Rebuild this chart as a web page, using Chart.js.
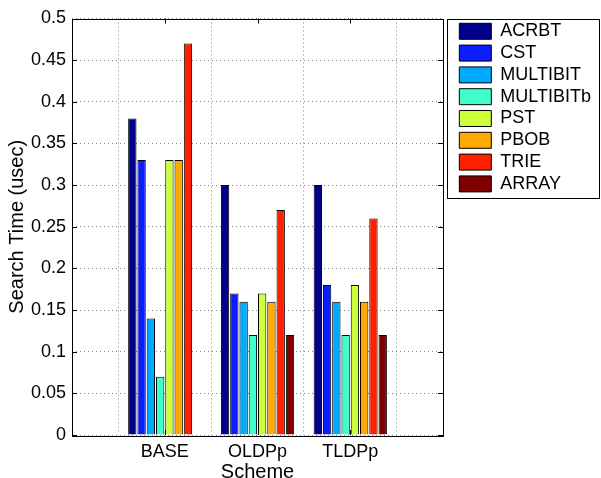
<!DOCTYPE html>
<html>
<head>
<meta charset="utf-8">
<script src="https://cdn.jsdelivr.net/npm/chart.js@4"></script>
<style>
    html, body { margin: 0; padding: 0; background: #fff; }
</style>
</head>
<body>
<canvas id="chart" width="601" height="478"></canvas>
<script>
// x categories
const schemes = ['BASE', 'OLDPp', 'TLDPp'];
// series names and colours (jet-like colormap)
const methods = ['ACRBT', 'CST', 'MULTIBIT', 'MULTIBITb', 'PST', 'PBOB', 'TRIE', 'ARRAY'];
const colors = ['#00008c', '#0a1eff', '#00aaff', '#40ffcc', '#ccff3c', '#ffaa00', '#ff2000', '#800000'];

// search time (usec), one value per scheme
const acrbt = [0.38, 0.30, 0.30];
const cst = [0.33, 0.17, 0.18];
const multibit = [0.14, 0.16, 0.16];
const multibitb = [0.07, 0.12, 0.12];
const pst = [0.33, 0.17, 0.18];
const pbob = [0.33, 0.16, 0.16];
const trie = [0.47, 0.27, 0.26];
const array = [0, 0.12, 0.12];
const series = [acrbt, cst, multibit, multibitb, pst, pbob, trie, array];

const yMin = 0, yMax = 0.5, yStep = 0.05;

Chart.defaults.font.family = "'Liberation Sans', Arial, sans-serif";
Chart.defaults.font.size = 18;
Chart.defaults.color = '#000';

// empty slots at both ends so the x range runs 0..4 like the original
const labels = [''].concat(schemes, ['']);

const datasets = methods.map(function (name, i) {
    return {
        label: name,
        data: [null].concat(series[i], [null]),
        backgroundColor: colors[i],
        borderColor: '#000',
        borderWidth: 1,
        yAxisID: 'y'
    };
});

// box round the plot, inward tick marks, frame round the legend
const framePlugin = {
    id: 'frame',
    afterDraw(chart) {
        const ctx = chart.ctx;
        const a = chart.chartArea;
        const x = chart.scales.x;
        const y = chart.scales.y;
        const tl = 5;
        ctx.save();
        ctx.strokeStyle = '#000';
        ctx.lineWidth = 1;
        ctx.beginPath();
        y.ticks.forEach(function (t) {
            let py = Math.round(y.getPixelForValue(t.value)) + 0.5;
            ctx.moveTo(a.left, py);
            ctx.lineTo(a.left + tl, py);
            ctx.moveTo(a.right, py);
            ctx.lineTo(a.right - tl, py);
        });
        for (let i = 1; i <= schemes.length; ++i) {
            let px = Math.round(x.getPixelForValue(i)) + 0.5;
            ctx.moveTo(px, a.bottom);
            ctx.lineTo(px, a.bottom - tl);
            ctx.moveTo(px, a.top);
            ctx.lineTo(px, a.top + tl);
        }
        ctx.stroke();
        ctx.strokeRect(Math.round(a.left) + 0.5, Math.round(a.top) + 0.5,
            Math.round(a.right - a.left), Math.round(a.bottom - a.top));

        const lg = chart.legend;
        const boxes = lg.legendHitBoxes;
        const last = boxes[boxes.length - 1];
        const pad = lg.options.labels.padding;
        const bottom = last.top + last.height + pad + 1;
        ctx.strokeRect(Math.floor(lg.left - 8) + 0.5, Math.round(lg.top) + 0.5,
            152, Math.round(bottom - lg.top));
        ctx.restore();
    }
};

new Chart(document.getElementById('chart'), {
    type: 'bar',
    data: { labels: labels, datasets: datasets },
    options: {
        responsive: false,
        animation: false,
        devicePixelRatio: 1,
        barPercentage: 0.9,
        categoryPercentage: 0.8,
        layout: { padding: { left: 7, top: 18.5, right: 0, bottom: 0 } },
        plugins: {
            tooltip: { enabled: false },
            legend: {
                position: 'right',
                align: 'start',
                maxWidth: 170,
                labels: {
                    boxWidth: 32,
                    boxHeight: 16,
                    padding: 3.8,
                    font: { size: 18 },
                    color: '#000'
                }
            }
        },
        scales: {
            x: {
                offset: false,
                grid: { color: '#808080', drawTicks: false, borderDash: [1, 3] },
                border: { display: false, dash: [1, 3] },
                ticks: { padding: 8, autoSkip: false, maxRotation: 0, font: { size: 18, lineHeight: 1 } },
                title: { display: true, text: 'Scheme', padding: { top: -7, bottom: -4 }, font: { size: 20, lineHeight: 1 } }
            },
            y: {
                min: yMin,
                max: yMax,
                grid: { color: '#808080', drawTicks: false, borderDash: [1, 3] },
                border: { display: false, dash: [1, 3] },
                ticks: {
                    stepSize: yStep,
                    padding: 6,
                    font: { size: 18, lineHeight: 1 },
                    callback: function (v) { return String(Number(v.toFixed(2))); }
                },
                title: {
                    display: true,
                    text: 'Search Time (usec)',
                    padding: { top: 0, bottom: -2 },
                    font: { size: 20, lineHeight: 1 }
                }
            },
            // spacer between plot box and legend
            y2: {
                position: 'right',
                min: yMin,
                max: yMax,
                ticks: { display: false },
                grid: { drawOnChartArea: false, drawTicks: true, tickLength: 12.5, tickColor: 'rgba(0,0,0,0)' },
                border: { display: false }
            }
        }
    },
    plugins: [framePlugin]
});
</script>
</body>
</html>
